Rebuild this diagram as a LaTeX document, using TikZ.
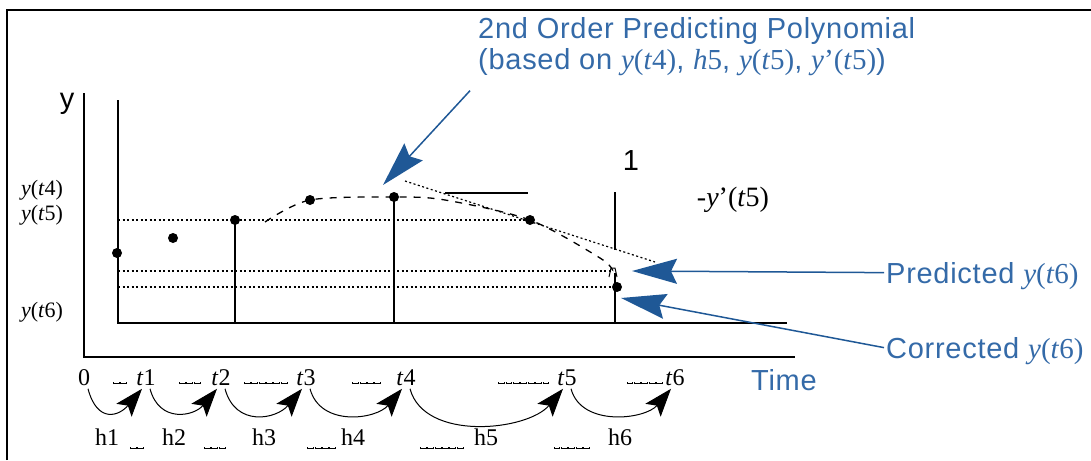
\documentclass[tikz,border=0pt]{standalone}
\usepackage{fontspec}
\setmainfont{Liberation Serif}
\setsansfont[LetterSpace=2.5]{Liberation Sans}
\usetikzlibrary{arrows.meta}

\definecolor{notetext}{RGB}{52,106,168}
\definecolor{notearrow}{RGB}{31,88,150}

\newcommand{\yof}[1]{{\rmfamily\textit{y}(\textit{t}#1)}}
\newcommand{\gapmarks}[1]{\foreach \k in {1,...,#1}{\rule{.7pt}{2.4pt}\rule{5.2pt}{.7pt}\rule{.7pt}{2.4pt}\kern.8pt}}

\tikzset{
  axisline/.style={line width=2pt},
  stem/.style={line width=1.8pt},
  level/.style={line width=1.2pt, dash pattern=on 2pt off 2.5pt},
  datapt/.style={circle, fill, inner sep=0pt, minimum size=10pt},
  serlab/.style={font=\fontsize{24}{26}\selectfont},
  sanslab/.style={font=\sffamily\fontsize{29}{31}\selectfont},
  note/.style={font=\sffamily\fontsize{29}{31}\selectfont, text=notetext, align=left},
  gapnote/.style={inner sep=0pt},
  pointer/.style={notearrow, line width=1.5pt, -{Stealth[length=45pt,width=25pt,inset=6pt]}},
  hop/.style={line width=1pt, -{Stealth[length=28pt,width=20pt,inset=6pt]}},
}

\begin{document}
\begin{tikzpicture}[x=1pt,y=-1pt]
\useasboundingbox (0,0) rectangle (1091,460);

% frame
\draw[line width=2.5pt] (7,460) -- (7,10) -- (1091,10);

% axes
\draw[axisline] (84,93) -- (84,357) -- (795,357);
\node[sanslab] (ylab) at (67,104) {y};
\node[serlab, font=\fontsize{22}{24}\selectfont] (yt4) at (42,190) {\yof{4}};
\node[serlab, font=\fontsize{22}{24}\selectfont] (yt5) at (42,215) {\yof{5}};
\node[serlab, font=\fontsize{22}{24}\selectfont] (yt6) at (42,312) {\yof{6}};

% solution points
\node[datapt] (d0) at (117,253) {};
\node[datapt] (d1) at (173,238) {};
\node[datapt] (d2) at (235,220) {};
\node[datapt] (d3) at (310,200) {};
\node[datapt] (d4) at (394,197) {};
\node[datapt] (d5) at (530,220) {};
\node[datapt] (d6) at (617,287) {};
\coordinate (p6) at (613,271);

% stems and levels
\draw[stem] (118,100) -- (118,323) -- (787,323);
\draw[stem] (d2.center) -- (235,323);
\draw[stem] (d4.center) -- (394,323);
\draw[stem] (615,273) -- (615,323);
\draw[level] (118,220) -- (d5.center);
\draw[level] (118,271) -- (p6);
\draw[level] (118,287) -- (d6.center);
\draw[line width=1pt] (609,277) -- (611,268) -- (615,268) -- (617,277);

% predicting polynomial and slope
\draw[line width=1.3pt, dash pattern=on 7pt off 7pt]
  plot[smooth] coordinates {(265,222) (d3) (d4) (445,200) (d5) (600,258) (p6)};
\draw[level] (405,181) -- (655,262);
\draw[line width=1.5pt] (445,193) -- (528,193);
\draw[line width=1.5pt] (615,192) -- (615,250);
\node[sanslab] (one) at (631,161) {1};
\node[serlab, font=\fontsize{28}{30}\selectfont] (slope) at (733,200) {\textit{-y}'(\textit{t}5)};

% time steps
\foreach \nm/\x/\txt in {t0/84/0, t1/146/{\textit{t}1}, t2/221/{\textit{t}2}, t3/306/{\textit{t}3},
    t4/406/{\textit{t}4}, t5/567/{\textit{t}5}, t6/675/{\textit{t}6}}
  \node[serlab, anchor=base] (\nm) at (\x,385) {\txt};
\foreach \nm/\x in {h1/107, h2/174, h3/264, h4/353, h5/486, h6/620}
  \node[serlab, anchor=base] (\nm) at (\x,445) {\nm};
\foreach \x/\y/\cnt [count=\i] in {120/384/2, 190/384/3, 266/384/6, 367/384/4, 524/384/7, 645/384/5,
    137/449/2, 215/449/3, 322/449/4, 442/449/6, 572/449/5}
  \node[gapnote, anchor=base] (gap\i) at (\x,\y) {\gapmarks{\cnt}};
\foreach \a/\b/\d in {t0/t1/36, t1/t2/36, t2/t3/40, t3/t4/40, t4/t5/55, t5/t6/40}
  \draw[hop] ([xshift=4pt]\a.south) to[out=-75,in=-130,distance=\d pt] ([xshift=-4pt]\b.south);
\node[sanslab, text=notetext, anchor=base] (timelab) at (784,390) {Time};

% notes
\node[note, anchor=north west, inner sep=0pt] (title) at (478,17)
  {2nd Order Predicting Polynomial\\(based on \yof{4}, {\rmfamily\textit{h}5}, \yof{5}, {\rmfamily\textit{y}'(\textit{t}5)})};
\coordinate (polytip) at (383,185);
\draw[pointer] ([xshift=-8pt,yshift=-15pt]title.south west) -- (polytip);

\node[note, anchor=base west, inner sep=2pt] (predlab) at (884,283) {Predicted \yof{6}};
\coordinate (predtip) at (632,271);
\draw[pointer] ([yshift=3pt]predlab.west) -- (predtip);

\node[note, anchor=base west, inner sep=2pt] (corrlab) at (884,358) {Corrected \yof{6}};
\coordinate (corrtip) at (621,298);
\draw[pointer] ([yshift=3pt]corrlab.west) -- (corrtip);

\end{tikzpicture}
\end{document}
